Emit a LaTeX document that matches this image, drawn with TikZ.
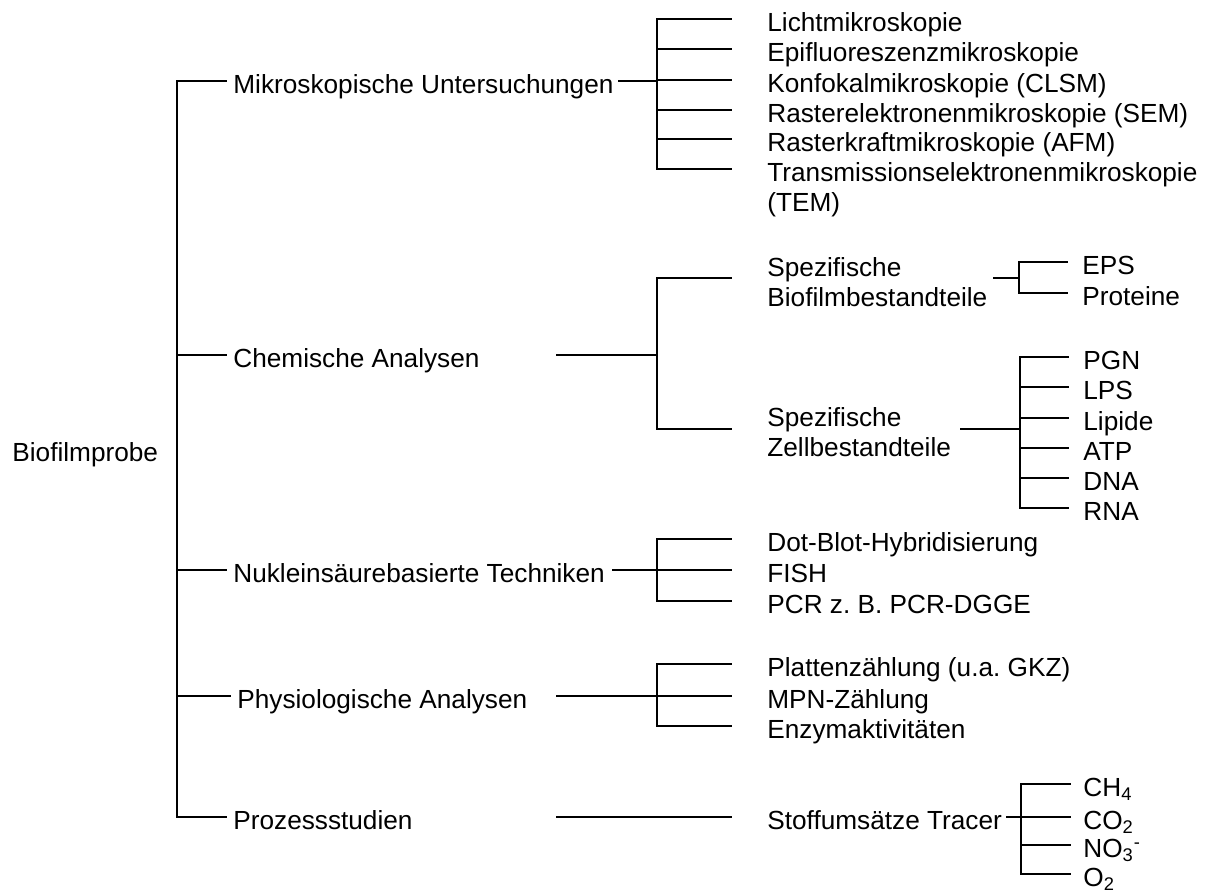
\documentclass[tikz,border=0pt]{standalone}
\usepackage{fontspec}
\setmainfont{Liberation Sans}
\usetikzlibrary{calc}
\frenchspacing

\tikzset{
  lbl/.style={anchor=west,inner sep=0pt,text height=12.4pt,text depth=0pt,
    font=\fontsize{13.1}{15}\selectfont},
  lbltwo/.style={anchor=west,inner sep=0pt,align=left,
    font=\fontsize{13.1}{15}\selectfont},
  tree/.style={line width=0.9pt,line cap=rect},
}

\begin{document}
\begin{tikzpicture}[x=0.5pt,y=-0.5pt]
  \useasboundingbox (0,0) rectangle (1214,894);

  % root and first level
  \node[lbl] (bio) at (12,449) {Biofilmprobe};
  \node[lbl] (mik) at (233,81) {Mikroskopische Untersuchungen};
  \node[lbl] (che) at (233,355) {Chemische Analysen};
  \node[lbl] (nuk) at (233,570) {Nukleinsäurebasierte Techniken};
  \node[lbl] (phy) at (237,696) {Physiologische Analysen};
  \node[lbl] (pro) at (233,817) {Prozessstudien};

  \coordinate (bus) at (177,0);
  \draw[tree] (bus |- mik) -- (bus |- pro);
  \foreach \n in {mik,che,nuk,phy,pro}
    \draw[tree] (bus |- \n) -- ($(\n.west)+(-7,0)$);

  % second level: bar at mb, branch ends at me, left feed from cs
  \coordinate (mb) at (657,0);
  \coordinate (me) at (731,0);
  \coordinate (cs) at (557,0);

  % Mikroskopie
  \node[lbl] (lic) at (767,19) {Lichtmikroskopie};
  \node[lbl] (epi) at (767,49) {Epifluoreszenzmikroskopie};
  \node[lbl] (kon) at (767,80) {Konfokalmikroskopie (CLSM)};
  \node[lbl] (sem) at (767,110) {Rasterelektronenmikroskopie (SEM)};
  \node[lbl] (afm) at (767,139) {Rasterkraftmikroskopie (AFM)};
  \node[lbl] (tem) at (767,169) {Transmissionselektronenmikroskopie};
  \node[lbl] (temk) at (767,199) {(TEM)};
  \draw[tree] ($(mik.east)+(5,0)$) -- (mb |- mik);
  \draw[tree] (mb |- lic) -- (mb |- tem);
  \foreach \n in {lic,epi,kon,sem,afm,tem}
    \draw[tree] (mb |- \n) -- (me |- \n);

  % Chemie
  \node[lbltwo] (sbio) at (767,282) {Spezifische\\Biofilmbestandteile};
  \node[lbltwo] (szel) at (767,432) {Spezifische\\Zellbestandteile};
  \coordinate (sbioin) at ($(sbio.west)+(0,-4)$);
  \coordinate (szelin) at ($(szel.west)+(0,-3)$);
  \draw[tree] (cs |- che) -- (mb |- che);
  \draw[tree] (mb |- sbioin) -- (mb |- szelin);
  \foreach \n in {sbioin,szelin}
    \draw[tree] (mb |- \n) -- (me |- \n);

  \coordinate (eb) at (1019,0);
  \coordinate (ee) at (1067,0);
  \node[lbl] (eps) at (1082,262) {EPS};
  \node[lbl] (prt) at (1082,293) {Proteine};
  \draw[tree] ($(sbio.east |- sbioin)+(6,0)$) -- (eb |- sbioin);
  \draw[tree] (eb |- eps) -- (eb |- prt);
  \foreach \n in {eps,prt}
    \draw[tree] (eb |- \n) -- (ee |- \n);

  \coordinate (zb) at (1020,0);
  \coordinate (ze) at (1068,0);
  \node[lbl] (pgn) at (1083,357) {PGN};
  \node[lbl] (lps) at (1083,387) {LPS};
  \node[lbl] (lip) at (1083,418) {Lipide};
  \node[lbl] (atp) at (1083,448) {ATP};
  \node[lbl] (dna) at (1083,478) {DNA};
  \node[lbl] (rna) at (1083,508) {RNA};
  \draw[tree] ($(szel.east |- szelin)+(10,0)$) -- (zb |- szelin);
  \draw[tree] (zb |- pgn) -- (zb |- rna);
  \foreach \n in {pgn,lps,lip,atp,dna,rna}
    \draw[tree] (zb |- \n) -- (ze |- \n);

  % Nukleinsaeuren
  \node[lbl] (dot) at (767,539) {Dot-Blot-Hybridisierung};
  \node[lbl] (fis) at (767,570) {FISH};
  \node[lbl] (pcr) at (767,601) {PCR z. B. PCR-DGGE};
  \draw[tree] ($(nuk.east)+(8,0)$) -- (mb |- nuk);
  \draw[tree] (mb |- dot) -- (mb |- pcr);
  \foreach \n in {dot,fis,pcr}
    \draw[tree] (mb |- \n) -- (me |- \n);

  % Physiologie
  \node[lbl] (pla) at (767,664) {Plattenzählung (u.a. GKZ)};
  \node[lbl] (mpn) at (767,696) {MPN-Zählung};
  \node[lbl] (enz) at (767,726) {Enzymaktivitäten};
  \draw[tree] (cs |- phy) -- (mb |- phy);
  \draw[tree] (mb |- pla) -- (mb |- enz);
  \foreach \n in {pla,mpn,enz}
    \draw[tree] (mb |- \n) -- (me |- \n);

  % Prozesse
  \node[lbl] (sto) at (767,817) {Stoffumsätze Tracer};
  \draw[tree] (cs |- pro) -- (me |- pro);

  \coordinate (tb) at (1021,0);
  \coordinate (te) at (1070,0);
  \node[lbl] (chf) at (1083,784) {CH\textsubscript{4}};
  \node[lbl] (cod) at (1083,817) {CO\textsubscript{2}};
  \node[lbl] (not) at (1083,845) {NO\textsubscript{3}\textsuperscript{-}};
  \node[lbl] (oxy) at (1083,874) {O\textsubscript{2}};
  \draw[tree] ($(sto.east)+(5,0)$) -- (tb |- sto);
  \draw[tree] (tb |- chf) -- (tb |- oxy);
  \foreach \n in {chf,cod,not,oxy}
    \draw[tree] (tb |- \n) -- (te |- \n);
\end{tikzpicture}
\end{document}
